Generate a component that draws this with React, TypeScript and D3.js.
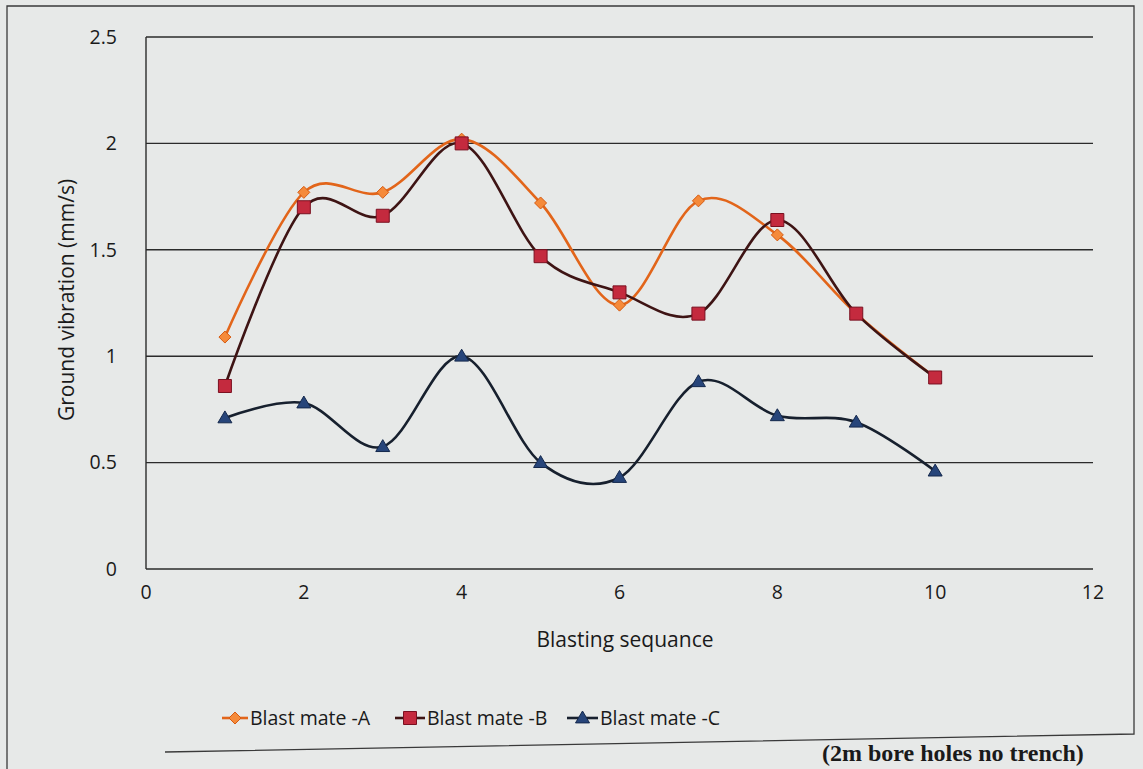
import React from "react";
import * as d3 from "d3";

const sequence = [1, 2, 3, 4, 5, 6, 7, 8, 9, 10];
const blastMateA = [1.09, 1.77, 1.77, 2.02, 1.72, 1.24, 1.73, 1.57, 1.2, 0.9];
const blastMateB = [0.86, 1.7, 1.66, 2.0, 1.47, 1.3, 1.2, 1.64, 1.2, 0.9];
const blastMateC = [0.71, 0.78, 0.575, 1.0, 0.5, 0.43, 0.88, 0.72, 0.69, 0.46];
const xTicks = [0, 2, 4, 6, 8, 10, 12];
const yTicks = [0, 0.5, 1, 1.5, 2, 2.5];
const seriesNames = ["Blast mate -A", "Blast mate -B", "Blast mate -C"];

const W = 1143;
const H = 769;
const FONT = "'Open Sans', 'Noto Sans', sans-serif";

export default function App() {
  const x = d3.scaleLinear().domain([0, 12]).range([146, 1093]);
  const y = d3.scaleLinear().domain([0, 2.5]).range([569, 37]);

  const line = d3
    .line<[number, number]>()
    .x((d) => x(d[0]))
    .y((d) => y(d[1]))
    .curve(d3.curveCatmullRom.alpha(0));

  const series = [
    { name: seriesNames[0], values: blastMateA, stroke: "#E2651A", fill: "#F58A3A", mstroke: "#D65A10", marker: "diamond" },
    { name: seriesNames[1], values: blastMateB, stroke: "#3E1414", fill: "#C42A3E", mstroke: "#7A1020", marker: "square" },
    { name: seriesNames[2], values: blastMateC, stroke: "#17202E", fill: "#27457A", mstroke: "#14284C", marker: "triangle" },
  ];

  const markerPath = (type: string, cx: number, cy: number) => {
    if (type === "diamond") {
      const r = 6;
      return `M${cx},${cy - r}L${cx + r},${cy}L${cx},${cy + r}L${cx - r},${cy}Z`;
    }
    if (type === "square") {
      const r = 6.5;
      return `M${cx - r},${cy - r}H${cx + r}V${cy + r}H${cx - r}Z`;
    }
    const r = 7;
    return `M${cx},${cy - r}L${cx + r},${cy + r * 0.7}L${cx - r},${cy + r * 0.7}Z`;
  };

  const legendItems = [
    { lx: 222, tx: 250 },
    { lx: 395, tx: 427 },
    { lx: 567, tx: 600 },
  ];
  const legendY = 718;

  return (
    <svg width={W} height={H} style={{ display: "block", position: "absolute", left: 0, top: 0 }}>
      <rect x={0} y={0} width={W} height={H} fill="#E7E9E8" />
      {/* outer chart border */}
      <path d="M7,769 V6 H1134 V734 L165,752" fill="none" stroke="#3a3a3a" strokeWidth={1.3} />

      {/* gridlines */}
      {yTicks.map((t) => (
        <line key={t} x1={x(0)} x2={x(12)} y1={y(t)} y2={y(t)} stroke="#2b2b2b" strokeWidth={1.4} />
      ))}
      <line x1={x(0)} x2={x(0)} y1={y(2.5)} y2={y(0)} stroke="#2b2b2b" strokeWidth={1.4} />

      {/* y tick labels */}
      {yTicks.map((t) => (
        <text key={t} x={117} y={y(t)} dy="0.35em" textAnchor="end" fontFamily={FONT} fontSize={19.5} fill="#1a1a1a">
          {String(t)}
        </text>
      ))}
      {/* x tick labels */}
      {xTicks.map((t) => (
        <text key={t} x={x(t)} y={592} dy="0.35em" textAnchor="middle" fontFamily={FONT} fontSize={19.5} fill="#1a1a1a">
          {String(t)}
        </text>
      ))}

      {/* axis titles */}
      <text transform="translate(74,300) rotate(-90)" textAnchor="middle" fontFamily={FONT} fontSize={21} fill="#1a1a1a">
        Ground vibration (mm/s)
      </text>
      <text x={625} y={640} dy="0.35em" textAnchor="middle" fontFamily={FONT} fontSize={21} fill="#1a1a1a">
        Blasting sequance
      </text>

      {/* series */}
      {series.map((s) => {
        const pts = sequence.map((q, i) => [q, s.values[i]] as [number, number]);
        return (
          <g key={s.name}>
            <path d={line(pts) || ""} fill="none" stroke={s.stroke} strokeWidth={2.6} />
            {pts.map((p, i) => (
              <path key={i} d={markerPath(s.marker, x(p[0]), y(p[1]))} fill={s.fill} stroke={s.mstroke} strokeWidth={1} />
            ))}
          </g>
        );
      })}

      {/* legend */}
      {series.map((s, i) => {
        const it = legendItems[i];
        return (
          <g key={s.name}>
            <line x1={it.lx} x2={it.tx - 2} y1={legendY} y2={legendY} stroke={s.stroke} strokeWidth={2.6} />
            <path d={markerPath(s.marker, (it.lx + it.tx - 2) / 2, legendY)} fill={s.fill} stroke={s.mstroke} strokeWidth={1} />
            <text x={it.tx} y={legendY} dy="0.35em" fontFamily={FONT} fontSize={19.5} fill="#1a1a1a">
              {s.name}
            </text>
          </g>
        );
      })}

      {/* caption fragment at bottom */}
      <text x={822} y={761} fontFamily="'Liberation Serif', 'DejaVu Serif', serif" fontSize={24} fontWeight="bold" fill="#1a1a1a">
        (2m bore holes no trench)
      </text>
    </svg>
  );
}
